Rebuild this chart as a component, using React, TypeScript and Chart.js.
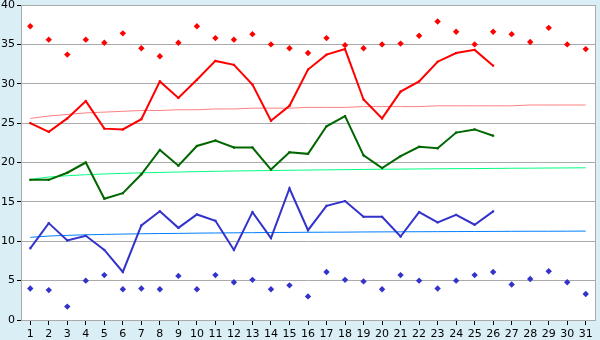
import React, { useEffect, useRef } from "react";
import { Chart, registerables } from "chart.js";

Chart.register(...registerables);

const days = ["1","2","3","4","5","6","7","8","9","10","11","12","13","14","15","16","17","18","19","20","21","22","23","24","25","26","27","28","29","30","31"];

const redLine = [25.0, 23.9, 25.6, 27.8, 24.3, 24.2, 25.5, 30.3, 28.2, 30.5, 32.9, 32.4, 29.9, 25.3, 27.2, 31.8, 33.7, 34.4, 28.0, 25.6, 29.0, 30.3, 32.8, 33.9, 34.3, 32.3];
const redMarks = [37.3, 35.6, 33.7, 35.6, 35.2, 36.4, 34.5, 33.5, 35.2, 37.3, 35.8, 35.6, 36.3, 35.0, 34.5, 33.9, 35.8, 34.9, 34.5, 35.0, 35.1, 36.1, 37.9, 36.6, 35.0, 36.6, 36.3, 35.3, 37.1, 35.0, 34.4];
const redTrend = [25.6, 25.9, 26.1, 26.3, 26.4, 26.5, 26.6, 26.6, 26.7, 26.7, 26.8, 26.8, 26.9, 26.9, 26.9, 27.0, 27.0, 27.0, 27.1, 27.1, 27.1, 27.1, 27.2, 27.2, 27.2, 27.2, 27.2, 27.3, 27.3, 27.3, 27.3];

const greenLine = [17.8, 17.8, 18.7, 20.0, 15.4, 16.1, 18.5, 21.6, 19.6, 22.1, 22.8, 21.9, 21.9, 19.1, 21.3, 21.1, 24.6, 25.9, 20.9, 19.3, 20.8, 22.0, 21.8, 23.8, 24.2, 23.4];
const greenTrend = [17.85, 18.15, 18.32, 18.45, 18.54, 18.62, 18.69, 18.74, 18.79, 18.84, 18.88, 18.92, 18.95, 18.98, 19.01, 19.04, 19.07, 19.09, 19.12, 19.14, 19.16, 19.18, 19.2, 19.22, 19.23, 19.25, 19.27, 19.28, 19.3, 19.31, 19.33];

const blueLine = [9.1, 12.3, 10.1, 10.7, 8.9, 6.1, 12.0, 13.8, 11.7, 13.4, 12.6, 8.9, 13.7, 10.4, 16.7, 11.4, 14.5, 15.1, 13.1, 13.1, 10.6, 13.7, 12.4, 13.35, 12.1, 13.8];
const blueMarks = [4.0, 3.8, 1.7, 5.0, 5.7, 3.9, 4.0, 3.9, 5.6, 3.9, 5.7, 4.8, 5.1, 3.9, 4.4, 3.0, 6.1, 5.1, 4.9, 3.9, 5.7, 5.0, 4.0, 5.0, 5.7, 6.1, 4.5, 5.2, 6.2, 4.8, 3.3];
const blueTrend = [10.5, 10.66, 10.75, 10.82, 10.87, 10.91, 10.95, 10.98, 11.0, 11.03, 11.05, 11.07, 11.09, 11.11, 11.12, 11.14, 11.15, 11.16, 11.18, 11.19, 11.2, 11.21, 11.22, 11.23, 11.24, 11.25, 11.26, 11.27, 11.27, 11.28, 11.29];

const RED = "#ff0000";
const GREEN = "#006600";
const BLUE = "#3333cc";
const OUTER = "#daeef5";

const bgPlugin = {
  id: "bgPlugin",
  beforeDraw(chart: any) {
    const { ctx, chartArea } = chart;
    ctx.save();
    ctx.fillStyle = OUTER;
    ctx.fillRect(0, 0, chart.width, chart.height);
    ctx.fillStyle = "#ffffff";
    ctx.fillRect(chartArea.left, chartArea.top, chartArea.right - chartArea.left, chartArea.bottom - chartArea.top);
    ctx.restore();
  },
  afterDraw(chart: any) {
    const { ctx, chartArea } = chart;
    ctx.save();
    ctx.strokeStyle = "#aaaaaa";
    ctx.lineWidth = 1;
    ctx.strokeRect(Math.round(chartArea.left) + 0.5, Math.round(chartArea.top) + 0.5, Math.round(chartArea.right - chartArea.left), Math.round(chartArea.bottom - chartArea.top));
    ctx.restore();
  },
};

export default function App() {
  const ref = useRef<HTMLCanvasElement | null>(null);
  useEffect(() => {
    document.body.style.margin = "0";
    const lineDs = (data: number[], color: string) => ({
      data,
      borderColor: color,
      backgroundColor: color,
      borderWidth: 2,
      pointStyle: "rect",
      pointRadius: 1.5,
      pointBorderWidth: 0,
      tension: 0,
      fill: false,
    });
    const markDs = (data: number[], color: string) => ({
      data,
      showLine: false,
      borderColor: color,
      backgroundColor: color,
      pointStyle: "rectRot",
      pointRadius: 3.2,
      pointBorderWidth: 0,
    });
    const trendDs = (data: number[], color: string) => ({
      data,
      borderColor: color,
      borderWidth: 1,
      pointRadius: 0,
      tension: 0,
      fill: false,
    });
    const chart = new Chart(ref.current as HTMLCanvasElement, {
      type: "line",
      data: {
        labels: days,
        datasets: [
          markDs(redMarks, RED),
          markDs(blueMarks, BLUE),
          lineDs(redLine, RED),
          lineDs(greenLine, GREEN),
          lineDs(blueLine, BLUE),
          trendDs(redTrend, "#ff8080"),
          trendDs(greenTrend, "#00ff80"),
          trendDs(blueTrend, "#0080ff"),
        ] as any,
      },
      options: {
        responsive: false,
        animation: false,
        devicePixelRatio: 1,
        layout: { padding: { top: 5, right: 5, left: 0, bottom: 0 } },
        plugins: { legend: { display: false }, tooltip: { enabled: false } },
        scales: {
          x: {
            offset: true,
            grid: { offset: false, drawOnChartArea: false, drawTicks: true, tickLength: 5, tickColor: "#000000" },
            border: { display: true, color: "#aaaaaa" },
            ticks: { color: "#000000", font: { family: "DejaVu Sans", size: 11 }, padding: 3, maxRotation: 0, autoSkip: false },
            afterFit: (s: any) => { s.height = 20; s.paddingLeft = 0; s.paddingRight = 0; },
          },
          y: {
            min: 0,
            max: 40,
            grid: { color: "#aaaaaa", tickLength: 4, tickColor: "#000000" },
            border: { display: true, color: "#aaaaaa" },
            ticks: { stepSize: 5, color: "#000000", font: { family: "DejaVu Sans", size: 11 }, padding: 2 },
            afterFit: (s: any) => { s.width = 21; s.paddingTop = 0; s.paddingBottom = 0; },
          },
        },
      },
      plugins: [bgPlugin],
    });
    return () => chart.destroy();
  }, []);
  return <canvas ref={ref} width={600} height={340} style={{ display: "block" }} />;
}
